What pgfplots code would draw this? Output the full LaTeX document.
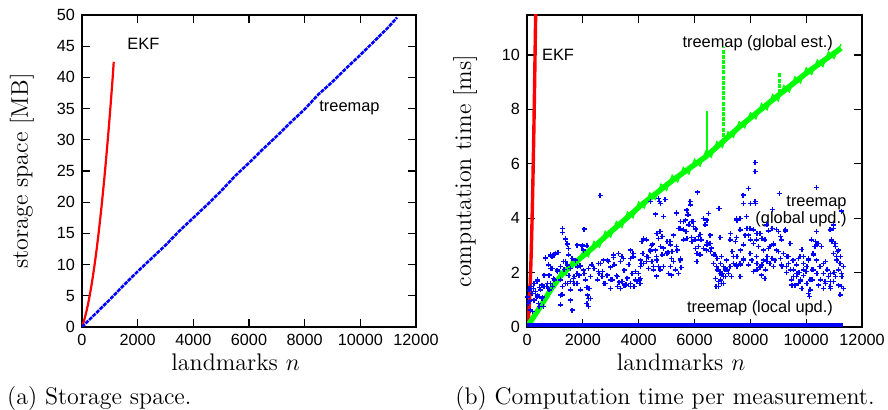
\documentclass[border=0pt]{standalone}
\usepackage{fontspec}
\usepackage{pgfplots}
\pgfplotsset{compat=1.18}
\newfontfamily\arialf{Liberation Sans}

\definecolor{gred}{rgb}{1,0,0}
\definecolor{ggreen}{rgb}{0,1,0}
\definecolor{gblue}{rgb}{0,0,1}

\pgfplotsset{
  gnu/.style={
    scale only axis, width=167pt, height=156pt,
    xmin=0, xmax=12000, xtick={0,2000,...,12000},
    scaled x ticks=false, scaled y ticks=false,
    /pgf/number format/1000 sep={},
    /pgf/number format/assume math mode=true,
    ticklabel style={font=\arialf\fontsize{8.1}{9}\selectfont},
    label style={font=\fontsize{12}{14}\selectfont},
    axis line style={line width=0.8pt},
    major tick style={line width=0.6pt, black},
    tick align=inside, major tick length=4pt,
    xlabel={landmarks $n$},
    xlabel style={at={(axis description cs:0.46,-0.112)}, anchor=center},
  },
}
\tikzset{lbl/.style={font=\arialf\fontsize{8.2}{7.5}\selectfont, inner sep=0pt}}

\begin{document}
\begin{tikzpicture}
\useasboundingbox (-41pt,-41.5pt) rectangle (403pt,163.5pt);

% (a) storage space
\begin{axis}[gnu,
  at={(0pt,0pt)},
  ymin=0, ymax=50, ytick={0,5,...,50},
  ylabel={storage space [MB]},
  ylabel style={at={(axis description cs:-0.18,0.5)}, anchor=center},
]
\addplot[gred, line width=1.1pt, smooth] coordinates {
  (0,0) (100,1.44) (200,3.31) (300,5.62) (400,8.37) (500,11.55) (600,15.17)
  (700,19.23) (800,23.72) (900,28.65) (1000,34.02) (1100,39.83) (1140,42.5)
};
\addplot[gblue, line width=1.3pt, dash pattern=on 2pt off 0.5pt] coordinates {
  (0,0) (500,2.2) (1000,4.4) (1500,6.7) (2000,8.9) (2500,11.0) (3000,13.1)
  (3500,15.4) (4000,17.5) (4500,19.6) (5000,21.8) (5500,24.2) (6000,26.3)
  (6500,28.5) (7000,30.6) (7500,32.8) (8000,34.9) (8500,37.3) (9000,39.3)
  (9500,41.5) (10000,43.6) (10500,45.8) (11000,48.0) (11320,49.6)
};
\node[lbl, anchor=west] at (axis cs:1620,45.4) {EKF};
\node[lbl, anchor=west] at (axis cs:8515,35.05) {treemap};
\end{axis}

% (b) computation time
\begin{axis}[gnu,
  at={(222.5pt,0pt)}, width=167.5pt,
  ymin=0, ymax=11.47, ytick={0,2,...,10},
  ylabel={computation time [ms]},
  ylabel style={at={(axis description cs:-0.185,0.5)}, anchor=center},
]
\addplot[gred, line width=1.7pt, smooth] coordinates {
  (0,0) (50,0.3) (100,1.2) (150,2.7) (200,4.8) (250,7.5) (300,10.8) (320,12.3)
};
% global estimate: band centre and its jagged edge
\addplot[ggreen, line width=2.7pt] coordinates {
  (0,0) (480,0.75) (900,1.45) (1300,2.0) (1900,2.52) (2400,2.95) (3000,3.5)
  (3600,4.03) (4100,4.49) (5200,5.38) (6400,6.26) (7000,6.8) (7600,7.35)
  (8800,8.35) (10000,9.33) (11250,10.25)
};
\addplot[ggreen, line width=0.6pt] coordinates {
  (0,0) (200,0.25) (400,0.71) (600,0.85) (800,1.40) (1000,1.44) (1200,2.06)
  (1400,1.89) (1600,2.46) (1800,2.23) (2000,2.81) (2200,2.58) (2400,3.15)
  (2600,2.93) (2800,3.52) (3000,3.30) (3200,3.88) (3400,3.65) (3600,4.23)
  (3800,4.01) (4000,4.60) (4200,4.37) (4400,4.93) (4600,4.69) (4800,5.26)
  (5000,5.02) (5200,5.58) (5400,5.33) (5600,5.87) (5800,5.62) (6000,6.17)
  (6200,5.91) (6400,6.46) (6600,6.24) (6800,6.82) (7000,6.60) (7200,7.18)
  (7400,6.97) (7600,7.55) (7800,7.32) (8000,7.88) (8200,7.65) (8400,8.22)
  (8600,7.98) (8800,8.55) (9000,8.31) (9200,8.88) (9400,8.64) (9600,9.20)
  (9800,8.97) (10000,9.53) (10200,9.28) (10400,9.82) (10600,9.57) (10800,10.12)
  (11000,9.87) (11250,10.40)
};
\addplot[ggreen, line width=1pt] coordinates {(6437,6.3) (6437,7.94)};
\addplot[ggreen, line width=1.6pt, dash pattern=on 2pt off 0.6pt] coordinates {(7045,6.8) (7045,10.3)};
\addplot[ggreen, line width=1.6pt, dash pattern=on 2pt off 0.6pt] coordinates {(9045,8.6) (9045,9.33)};
% global update
\addplot[gblue, only marks, mark=+, mark size=1.25pt, line width=0.7pt] coordinates {
  (2615,4.83) (1266,3.62) (1266,3.47) (2042,3.60) (1385,3.23) (1445,3.05)
  (1982,3.01) (2018,2.83) (1087,2.73) (968,2.68) (848,2.61) (669,2.56)
  (1385,2.40) (1744,2.46) (1803,2.21) (1565,2.15) (1326,2.12) (1087,2.03)
  (848,2.15) (789,1.91) (609,1.91) (371,1.73) (251,1.60) (132,1.48)
  (72,1.36) (192,1.24) (371,1.17) (490,1.36) (609,1.48) (789,1.36)
  (968,1.73) (1206,1.73) (1445,1.60) (1684,1.85) (1863,1.91) (2042,1.97)
  (2102,1.73) (2281,1.85) (2400,2.15) (2639,2.34) (2878,2.46) (3117,2.28)
  (3356,2.40) (3475,2.09) (3714,2.52) (3893,2.03) (4072,2.22) (2997,1.73)
  (2759,1.60) (2520,1.73) (2221,1.42) (2162,1.17) (2281,1.05) (1565,0.99)
  (1206,1.17) (430,0.75) (251,0.99) (192,0.56) (36,0.87) (12,1.11)
  (1684,1.60) (1266,1.48) (908,1.48) (729,1.60) (3475,1.54) (3714,1.60)
  (3236,1.48) (3833,1.48) (4012,1.73) (2878,1.91) (2580,1.97)
  (3000,2.2) (3200,1.9) (3400,2.6) (3600,1.8) (3800,2.7) (3550,1.55)
  (3300,1.65) (2700,2.05) (3100,2.55) (3650,2.3) (450,1.45) (300,1.3)
  (100,0.95) (550,1.1) (1500,1.9) (1900,2.25)
  (1373,3.26) (1433,3.07) (1493,2.89) (1791,3.01) (1970,2.95) (2149,2.98)
  (836,2.65) (1015,2.71) (1134,2.73) (657,2.52) (896,2.58) (1493,2.65)
  (1612,2.52) (1731,2.44) (1313,2.40) (1433,2.28) (1194,2.22) (1075,2.09)
  (896,2.16) (776,2.28) (1910,2.22) (2030,2.09) (2209,2.16) (2328,2.28)
  (2567,2.34) (2746,2.46) (2925,2.40) (3104,2.65) (3284,2.71) (3463,2.52)
  (3701,2.83) (3821,2.58) (2567,2.03) (2687,1.85) (2866,1.91) (3045,1.73)
  (3224,1.85) (3403,1.67) (3582,1.79) (3761,1.97) (3881,1.73) (2806,1.60)
  (2985,1.42) (3343,1.42) (3522,1.54) (3701,1.48) (1791,1.97) (1672,1.79)
  (1552,1.67) (1373,1.60) (1194,1.73) (1791,1.60) (1910,1.36) (955,1.79)
  (836,1.60) (716,1.48) (537,1.54) (358,1.67) (239,1.42) (179,1.24)
  (358,1.11) (537,1.05) (418,0.87) (597,0.75) (239,0.99) (119,0.62)
  (1552,1.36) (1254,1.18) (1194,0.81) (1612,0.62) (2209,1.05) (2209,0.75)
  (2149,0.87) (2149,1.45)
  (8167,6.04) (8167,5.71) (7929,5.10) (8167,4.61) (6102,4.96) (4943,4.69)
  (4740,4.61) (5839,4.61) (5863,4.49) (5361,4.20) (5743,4.12) (6317,3.99)
  (6376,3.75) (4884,4.06) (5600,3.87) (5481,3.63) (5958,3.87) (6555,3.38)
  (6914,3.30) (7630,3.99) (7511,3.99) (7869,4.06) (7630,3.57) (7810,3.38)
  (7988,3.63) (7272,3.20) (7511,3.30) (4167,3.26) (4287,3.20) (4705,3.26)
  (4764,3.50) (5242,3.38) (5600,3.20) (5361,2.95) (5123,3.14) (4406,2.83)
  (4645,2.59) (5003,2.71) (5182,2.52) (5481,2.46) (5517,2.19) (4764,2.10)
  (4526,2.22) (4287,2.40) (4645,1.87) (5182,1.91) (4108,2.34) (4048,1.60)
  (6197,2.65) (6436,2.83) (6555,3.08) (6675,2.34) (6137,2.95) (6018,3.20)
  (6257,3.20) (6794,2.22) (6914,1.97) (7033,1.85) (6854,1.67) (6973,1.60)
  (6770,1.48) (7093,2.10) (7272,2.22) (7511,2.28) (7630,2.34) (7152,2.46)
  (7391,2.59) (7749,2.52) (7988,2.71) (7332,1.85) (7630,1.85) (6734,2.65)
  (6973,2.59) (5700,3.5) (5900,3.3) (6050,3.6) (6200,3.4) (5800,3.75)
  (6450,3.1) (6600,2.9) (4900,2.9) (5050,2.75) (4450,3.0) (4150,2.7)
  (4350,2.55) (4600,4.15) (4500,3.05) (6890,4.36)
  (5349,4.18) (5731,4.30) (5791,4.12) (5492,3.87) (5671,3.93) (5910,3.87)
  (6507,4.18) (6865,4.36) (6447,3.93) (6328,3.99) (5432,3.63) (5612,3.57)
  (5970,3.69) (5731,3.26) (5910,3.14) (6149,3.32) (6209,3.20) (6328,2.89)
  (6030,2.89) (6447,3.02) (6567,2.77) (6686,2.65) (4656,3.44) (4836,3.32)
  (5015,3.14) (5134,3.02) (4776,2.95) (4597,2.83) (4418,2.77) (4179,3.26)
  (4119,3.14) (4298,2.59) (4477,2.40) (4656,2.46) (4836,2.65) (5015,2.71)
  (5194,2.77) (5373,2.83) (5492,2.52) (5253,2.40) (5134,2.22) (5313,2.10)
  (5432,1.97) (5074,1.97) (4895,2.22) (4716,2.22) (4537,2.10) (4358,2.16)
  (4179,2.34) (4059,2.46) (4000,1.97) (4059,1.79) (3940,1.67) (6089,2.71)
  (6089,2.40) (6806,2.52) (6925,2.34) (7044,2.22) (6865,2.10) (6985,1.97)
  (7164,2.10) (7283,2.22) (7403,2.34) (7522,2.22) (7104,1.85) (6925,1.73)
  (6806,2.10) (6746,1.79) (7044,1.60) (6865,1.48) (7223,1.97) (7641,2.28)
  (7761,2.46) (7522,2.59) (7343,2.77) (7641,2.83) (7761,3.02) (7462,3.14)
  (7283,3.44) (7641,3.57) (7522,3.93) (7761,4.55) (7737,4.85) (4418,4.61)
  (4716,4.73) (4776,4.55)
  (9039,4.91) (10376,5.13) (8800,4.33) (11272,4.26) (8645,3.53) (8943,3.59)
  (9242,3.53) (10376,3.50) (10854,3.57) (10973,3.63) (8107,3.57) (8346,3.44)
  (8525,3.20) (8227,3.20) (8287,2.95) (8466,2.83) (8704,2.95) (8824,3.08)
  (9122,3.20) (9421,3.08) (8943,2.83) (9182,2.71) (9361,2.59) (8883,2.46)
  (9122,2.28) (8704,2.34) (8466,2.46) (8227,2.59) (8048,2.46) (9302,2.22)
  (9540,2.10) (9660,1.85) (9481,1.73) (9779,1.67) (9600,1.54) (9899,2.34)
  (10077,2.46) (10257,2.10) (10376,2.46) (10495,2.22) (10615,1.97) (10137,1.73)
  (10137,1.36) (10113,1.12) (10794,1.85) (10854,1.48) (10675,1.67) (10973,1.67)
  (11092,2.59) (11212,2.34) (11152,2.83) (11331,2.22) (11272,1.97) (11272,1.48)
  (11212,1.18) (10436,3.08) (10555,2.95) (10197,3.20) (10316,2.95) (9779,2.59)
  (9660,2.28) (8406,1.91) (8107,2.03) (8525,1.79) (10913,3.20) (11033,3.08)
  (11117,2.77) (9900,1.9) (10000,2.05) (9300,2.0) (9750,2.0) (10700,2.4)
  (11000,2.0) (8600,2.6) (9500,2.45) (8350,2.2) (9850,2.85) (10250,2.7)
  (7999,4.55) (8179,4.55) (8596,3.75) (8776,3.63) (9014,3.50) (9253,3.57)
  (9074,3.32) (8238,3.44) (8417,3.26) (8000,3.20) (7880,3.63) (7940,3.38)
  (8119,3.08) (8298,2.95) (8477,2.83) (8656,2.89) (8835,3.02) (9014,2.77)
  (9193,2.71) (9313,2.59) (9074,2.52) (8776,2.52) (8596,2.40) (8417,2.28)
  (8238,2.34) (8059,2.46) (8000,2.71) (7940,2.28) (8238,2.10) (8537,2.10)
  (8835,2.22) (9134,2.22) (9373,2.34) (9552,2.46) (9731,2.52) (9910,2.59)
  (10089,2.52) (10268,2.65) (9432,2.10) (9552,1.85) (9671,1.97) (9790,1.73)
  (9492,1.54) (9731,1.60) (9910,2.10) (10029,2.22) (10209,2.10) (10387,1.97)
  (10507,2.22) (10626,2.34) (10746,2.10) (10865,1.97) (10507,1.73) (10686,1.60)
  (10865,1.67) (11044,1.85) (11164,2.10) (11283,1.85) (11164,1.54) (11343,1.42)
  (10865,1.42) (10626,1.42) (10447,1.54) (10209,1.73) (10029,1.60) (9850,1.42)
  (10089,1.24) (10984,2.71) (11044,2.95) (10925,3.14) (11104,2.46) (11223,2.59)
  (10328,3.14) (10387,3.02) (10865,3.57) (10984,3.75)
};
% local update
\addplot[gblue, line width=2.2pt] coordinates {(0,0.06) (11330,0.06)};
\node[lbl, anchor=west] at (axis cs:527,10.0) {EKF};
\node[lbl, anchor=east] at (axis cs:10972,10.43) {treemap (global est.)};
\node[lbl, anchor=east, align=right] at (axis cs:11463,4.25) {treemap\\(global upd.)};
\node[lbl, anchor=east] at (axis cs:10972,0.69) {treemap (local upd.)};
\end{axis}

\node[anchor=base west, font=\fontsize{12}{14}\selectfont, inner sep=0pt] at (-37.6pt,-39pt) {(a) Storage space.};
\node[anchor=base west, font=\fontsize{12}{14}\selectfont, inner sep=0pt] at (186.5pt,-39pt) {(b) Computation time per measurement.};
\end{tikzpicture}
\end{document}
